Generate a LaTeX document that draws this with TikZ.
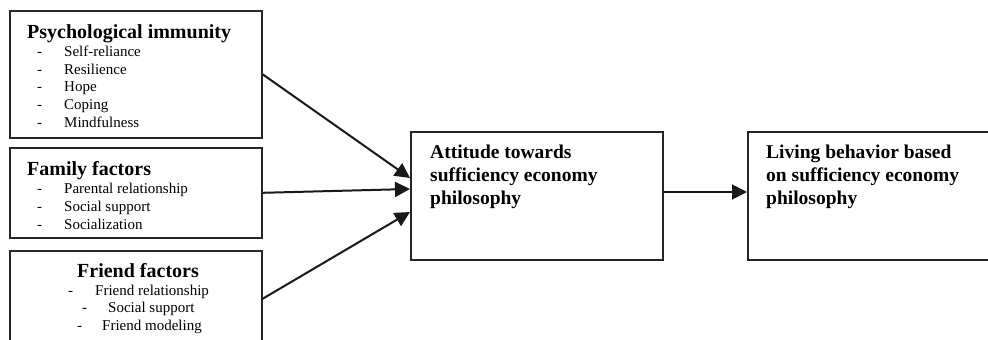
\documentclass[tikz,border=0pt]{standalone}
\usepackage{fontspec}
\setmainfont{Liberation Serif}
\usetikzlibrary{arrows.meta}
\tikzset{
  box/.style={draw=black!85, line width=1.6pt, rectangle, anchor=north west, inner sep=0pt},
  ttl/.style={font=\fontsize{20}{23}\selectfont\bfseries, anchor=base west, inner sep=0pt},
  itm/.style={font=\fontsize{15}{18}\selectfont, anchor=base west, inner sep=0pt},
  big/.style={font=\fontsize{19.5}{23}\selectfont\bfseries, anchor=north west, align=left, inner sep=0pt},
  conn/.style={draw=black!90, line width=2pt, -{Triangle[length=15pt,width=15pt]}}
}
\begin{document}
\begin{tikzpicture}[x=1pt,y=-1pt]
\useasboundingbox (0,0) rectangle (988,340);
\fill[white] (0,0) rectangle (988,340);
\clip (0,0) rectangle (988,340);
% boxes
\node[box, minimum width=252pt, minimum height=127pt] (b1) at (9,10) {};
\node[box, minimum width=252pt, minimum height=90pt] (b2) at (9,147) {};
\node[box, minimum width=252pt, minimum height=96pt] (b3) at (9,250) {};
\node[box, minimum width=252pt, minimum height=128pt] (mid) at (410,131) {};
\node[box, minimum width=260pt, minimum height=128pt] (rgt) at (747,131) {};
% box 1 text
\node[ttl] (t1) at (27,38) {Psychological immunity};
\node[itm] (d11) at (37,56.5) {-}; \node[itm] (i11) at (64,56.5) {Self-reliance};
\node[itm] (d12) at (37,74) {-}; \node[itm] (i12) at (64,74) {Resilience};
\node[itm] (d13) at (37,91.7) {-}; \node[itm] (i13) at (64,91.7) {Hope};
\node[itm] (d14) at (37,109.3) {-}; \node[itm] (i14) at (64,109.3) {Coping};
\node[itm] (d15) at (37,127) {-}; \node[itm] (i15) at (64,127) {Mindfulness};
% box 2 text
\node[ttl] (t2) at (27,175) {Family factors};
\node[itm] (d21) at (37,193) {-}; \node[itm] (i21) at (64,193) {Parental relationship};
\node[itm] (d22) at (37,211) {-}; \node[itm] (i22) at (64,211) {Social support};
\node[itm] (d23) at (37,229) {-}; \node[itm] (i23) at (64,229) {Socialization};
% box 3 text
\node[ttl, anchor=base] (t3) at (138,277) {Friend factors};
\node[itm] (d31) at (68,295) {-}; \node[itm] (i31) at (95,295) {Friend relationship};
\node[itm] (d32) at (82,312.5) {-}; \node[itm] (i32) at (108,312.5) {Social support};
\node[itm] (d33) at (77,330) {-}; \node[itm] (i33) at (102,330) {Friend modeling};
% middle and right text
\node[big] (tm) at (430,145) {Attitude towards\\sufficiency economy\\philosophy};
\node[big] (tr) at (766,145) {Living behavior based\\on sufficiency economy\\philosophy};
% connectors
\draw[conn] (b1.east) -- (mid.west |- 0,178);
\draw[conn] (b2.east) -- (mid.west |- 0,189);
\draw[conn] (b3.east) -- (mid.west |- 0,212);
\draw[conn] (mid.east |- 0,192) -- (rgt.west |- 0,192);
\end{tikzpicture}
\end{document}
